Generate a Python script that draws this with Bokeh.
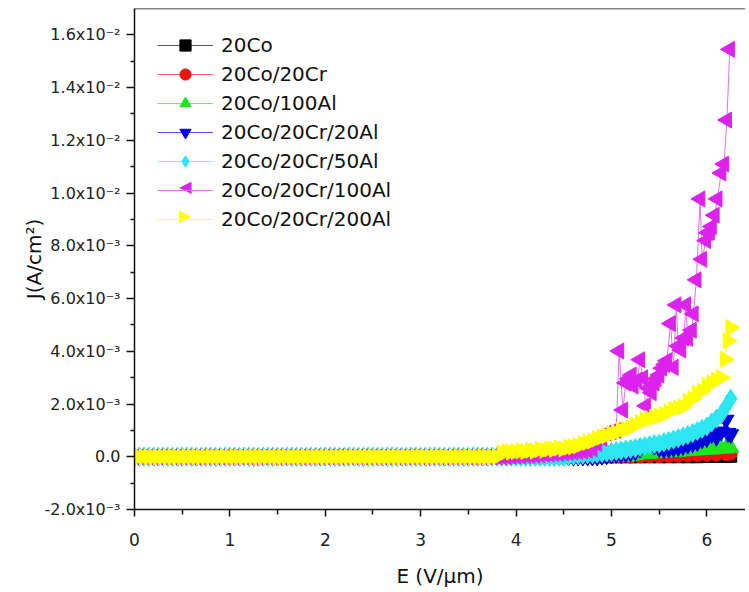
import math
from bokeh.plotting import figure
from bokeh.models import FixedTicker, Span, Legend, LegendItem, Range1d, Label
from bokeh.embed import file_html
from bokeh.resources import INLINE

# ---------------- data ----------------
# common flat part, E in V/um, J in A/cm^2 (all series ~0 below 3.8 V/um)
E_BASE = [0.0, 0.05, 0.1, 0.15, 0.2, 0.25, 0.3, 0.35, 0.4, 0.45, 0.5, 0.55, 0.6, 0.65,
          0.7, 0.75, 0.8, 0.85, 0.9, 0.95, 1.0, 1.05, 1.1, 1.15, 1.2, 1.25, 1.3, 1.35,
          1.4, 1.45, 1.5, 1.55, 1.6, 1.65, 1.7, 1.75, 1.8, 1.85, 1.9, 1.95, 2.0, 2.05,
          2.1, 2.15, 2.2, 2.25, 2.3, 2.35, 2.4, 2.45, 2.5, 2.55, 2.6, 2.65, 2.7, 2.75,
          2.8, 2.85, 2.9, 2.95, 3.0, 3.05, 3.1, 3.15, 3.2, 3.25, 3.3, 3.35, 3.4, 3.45,
          3.5, 3.55, 3.6, 3.65, 3.7, 3.75, 3.8]
J_BASE = [0.0, 0.0, 0.0, 0.0, 0.0, 0.0, 0.0, 0.0, 0.0, 0.0, 0.0, 0.0, 0.0, 0.0,
          0.0, 0.0, 0.0, 0.0, 0.0, 0.0, 0.0, 0.0, 0.0, 0.0, 0.0, 0.0, 0.0, 0.0,
          0.0, 0.0, 0.0, 0.0, 0.0, 0.0, 0.0, 0.0, 0.0, 0.0, 0.0, 0.0, 0.0, 0.0,
          0.0, 0.0, 0.0, 0.0, 0.0, 0.0, 0.0, 0.0, 0.0, 0.0, 0.0, 0.0, 0.0, 0.0,
          0.0, 0.0, 0.0, 0.0, 0.0, 0.0, 0.0, 0.0, 0.0, 0.0, 0.0, 0.0, 0.0, 0.0,
          0.0, 0.0, 0.0, 0.0, 0.0, 0.0, 0.0]

# shared tail grid (3.85 .. 6.25)
E_TAIL = [3.85, 3.9, 3.95, 4.0, 4.05, 4.1, 4.15, 4.2, 4.25, 4.3, 4.35, 4.4, 4.45, 4.5,
          4.55, 4.6, 4.65, 4.7, 4.75, 4.8, 4.85, 4.9, 4.95, 5.0, 5.05, 5.1, 5.15, 5.2,
          5.25, 5.3, 5.35, 5.4, 5.45, 5.5, 5.55, 5.6, 5.65, 5.7, 5.75, 5.8, 5.85, 5.9,
          5.95, 6.0, 6.05, 6.1, 6.15, 6.2, 6.25]

# 20Co
E_CO = [3.9, 4.0, 4.1, 4.2, 4.3, 4.4, 4.5, 4.6, 4.7, 4.8, 4.9, 5.0, 5.1, 5.2, 5.3,
        5.4, 5.5, 5.6, 5.7, 5.8, 5.9, 6.0, 6.1, 6.2, 6.25]
J_CO = [0.0, 0.0, 0.0, 0.0, 0.0, 0.0, 0.0, 0.0, 0.0, 0.0, 0.0, 0.0, 0.0, 0.0, 0.0,
        0.0, 0.0, 0.0, 0.0, 0.0, 0.0, 0.00001, 0.00001, 0.00002, 0.00002]

# 20Co/20Cr
E_COCR = [3.9, 4.0, 4.1, 4.2, 4.3, 4.4, 4.5, 4.6, 4.7, 4.8, 4.9, 5.0, 5.1, 5.2, 5.3,
          5.4, 5.5, 5.6, 5.7, 5.8, 5.9, 6.0, 6.1, 6.2, 6.25]
J_COCR = [0.0, 0.0, 0.0, 0.0, 0.0, 0.0, 0.0, 0.0, 0.0, 0.0, 0.0, 0.0, 0.0, 0.0, 0.00001,
          0.00002, 0.00002, 0.00003, 0.00004, 0.00005, 0.00006, 0.00007, 0.00008, 0.0001, 0.00012]

# 20Co/100Al  (on E_TAIL)
J_CO100AL = [0.0, 0.0, 0.0, 0.0, 0.0, 0.0, 0.0, 0.0, 0.0, 0.0, 0.0, 0.0, 0.0, 0.0,
             0.0, 0.0, 0.0, 0.0, 0.0, 0.0, 0.0, 0.0, 0.0, 0.0, 0.0, 0.0, 0.0, 0.00004,
             0.00006, 0.0001, 0.00012, 0.00012, 0.00014, 0.00015, 0.00016, 0.00018, 0.00019, 0.0002, 0.00021, 0.00023, 0.00024, 0.00025,
             0.00026, 0.00028, 0.00028, 0.0003, 0.00032, 0.00032, 0.00035]

# 20Co/20Cr/20Al
E_20AL = [3.85, 3.9, 3.95, 4.0, 4.05, 4.1, 4.15, 4.2, 4.25, 4.3, 4.35, 4.4, 4.45, 4.5,
          4.55, 4.6, 4.65, 4.7, 4.75, 4.8, 4.85, 4.9, 4.95, 5.0, 5.05, 5.1, 5.15, 5.2,
          5.25, 5.3, 5.35, 5.4, 5.45, 5.5, 5.55, 5.6, 5.65, 5.7, 5.75, 5.8, 5.85, 5.9,
          5.95, 6.0, 6.05, 6.1, 6.15, 6.2, 6.22, 6.25]
J_20AL = [0.0, 0.0, 0.0, 0.0, 0.0, 0.0, 0.0, 0.0, 0.0, 0.0, 0.0, 0.0, 0.0, 0.0,
          0.0, 0.0, 0.0, 0.0, 0.0, 0.0, 0.0, 0.00003, 0.00005, 0.00008, 0.0001, 0.0001, 0.00012, 0.00015,
          0.0002, 0.0003, 0.0004, 0.00045, 0.00042, 0.00032, 0.00028, 0.0003, 0.00033, 0.00036, 0.0004, 0.00045, 0.0005, 0.00055,
          0.00065, 0.0007, 0.00085, 0.00075, 0.00095, 0.0014, 0.0009, 0.00085]

# 20Co/20Cr/50Al  (on E_TAIL)
J_50AL = [0.0, 0.0, 0.0, 0.0, 0.0, 0.0, 0.0, 0.0, 0.0, 0.0, 0.0, 0.0, 0.0, 0.0,
          0.00003, 0.00005, 0.00006, 0.00008, 0.0001, 0.0001, 0.00012, 0.00014, 0.00016, 0.00018, 0.00022, 0.00024, 0.00027, 0.0003,
          0.00033, 0.00037, 0.0004, 0.00044, 0.00048, 0.0005, 0.00055, 0.0006, 0.00065, 0.0007, 0.00077, 0.00083, 0.0009, 0.00098,
          0.00106, 0.00115, 0.0013, 0.00145, 0.0016, 0.0019, 0.0022]

# 20Co/20Cr/100Al
E_100AL = [3.85, 3.9, 3.95, 4.0, 4.05, 4.1, 4.15, 4.2, 4.25, 4.3, 4.35, 4.4, 4.45, 4.5,
           4.55, 4.6, 4.65, 4.7, 4.75, 4.8, 4.85, 4.9, 4.95, 5.0, 5.05, 5.08, 5.12, 5.15,
           5.18, 5.21, 5.23, 5.27, 5.3, 5.33, 5.36, 5.39, 5.42, 5.45, 5.47, 5.5, 5.53, 5.56,
           5.58, 5.62, 5.65, 5.68, 5.7, 5.73, 5.76, 5.78, 5.8, 5.84, 5.86, 5.89, 5.93, 5.95,
           5.99, 6.01, 6.03, 6.05, 6.08, 6.11, 6.15, 6.18, 6.21, 6.24]
J_100AL = [0.0, 0.0, 0.00002, 0.00003, 0.00004, 0.00005, 0.00005, 0.00006, 0.00008, 0.0001, 0.0001, 0.00012, 0.00012, 0.00015,
           0.00016, 0.00018, 0.0002, 0.00022, 0.00025, 0.0003, 0.0005, 0.0007, 0.0009, 0.00095, 0.001, 0.00401, 0.00177, 0.0028,
           0.00296, 0.0031, 0.00268, 0.0029, 0.00368, 0.00299, 0.00193, 0.0026, 0.00243, 0.0028, 0.00296, 0.0031, 0.00336, 0.0035,
           0.00364, 0.00505, 0.00339, 0.00576, 0.0042, 0.00405, 0.0045, 0.00576, 0.00449, 0.0048, 0.00542, 0.00671, 0.00978, 0.00749,
           0.0082, 0.0085, 0.00853, 0.00873, 0.00916, 0.00978, 0.01076, 0.0111, 0.01277, 0.01545]

# 20Co/20Cr/200Al
E_200AL = [3.85, 3.9, 3.95, 4.0, 4.05, 4.1, 4.15, 4.2, 4.25, 4.3, 4.35, 4.4, 4.45, 4.5,
           4.55, 4.6, 4.65, 4.7, 4.75, 4.8, 4.85, 4.9, 4.95, 5.0, 5.05, 5.1, 5.15, 5.2,
           5.25, 5.3, 5.35, 5.4, 5.45, 5.5, 5.55, 5.6, 5.65, 5.7, 5.75, 5.8, 5.85, 5.9,
           5.95, 6.0, 6.05, 6.1, 6.15, 6.19, 6.22, 6.25]
J_200AL = [0.00015, 0.0002, 0.00018, 0.0002, 0.00022, 0.0002, 0.00025, 0.00022, 0.00028, 0.00025, 0.0003, 0.00028, 0.00033, 0.0003,
           0.00036, 0.00038, 0.00042, 0.0005, 0.00055, 0.0006, 0.00068, 0.00075, 0.0008, 0.00088, 0.00092, 0.001, 0.00105, 0.0011,
           0.0012, 0.0013, 0.0014, 0.00145, 0.0015, 0.00155, 0.0016, 0.0017, 0.0018, 0.00185, 0.0019, 0.0021, 0.0022, 0.0024,
           0.0025, 0.0027, 0.0028, 0.0029, 0.003, 0.0037, 0.0044, 0.0049]

NAMES = ["20Co", "20Co/20Cr", "20Co/100Al", "20Co/20Cr/20Al",
         "20Co/20Cr/50Al", "20Co/20Cr/100Al", "20Co/20Cr/200Al"]
X_SERIES = [E_BASE + E_CO, E_BASE + E_COCR, E_BASE + E_TAIL, E_BASE + E_20AL,
            E_BASE + E_TAIL, E_BASE + E_100AL, E_BASE + E_200AL]
Y_SERIES = [J_BASE + J_CO, J_BASE + J_COCR, J_BASE + J_CO100AL, J_BASE + J_20AL,
            J_BASE + J_50AL, J_BASE + J_100AL, J_BASE + J_200AL]
COLORS = ["#000000", "#EE1111", "#1EE61E", "#0000DD", "#2EE6F2", "#DD22EE", "#FFFF00"]
LINE_COLORS = ["#555555", "#F06060", "#60F060", "#5050F0", "#80F0F8", "#E070F0", "#FFFF60"]
MARKERS = ["square", "circle", "triangle", "inverted_triangle", "diamond", "triangle", "triangle"]
ANGLES = [0.0, 0.0, 0.0, 0.0, 0.0, math.pi / 2, -math.pi / 2]
SIZES = [12, 13, 16, 16, 19, 16, 16]
# legend symbols drawn as text for the sideways triangles (legend ignores marker angle)
LEGEND_SYMBOLS = [None, None, None, None, None, "\u25c0", "\u25b6"]

X_TICKS = [0, 1, 2, 3, 4, 5, 6]
X_MINOR = [0.5, 1.5, 2.5, 3.5, 4.5, 5.5, 6.5]
Y_TICKS = [-0.002, 0.0, 0.002, 0.004, 0.006, 0.008, 0.010, 0.012, 0.014, 0.016]
Y_TICK_LABELS = ["-2.0x10\u207b\u00b3", "0.0", "2.0x10\u207b\u00b3", "4.0x10\u207b\u00b3",
                 "6.0x10\u207b\u00b3", "8.0x10\u207b\u00b3", "1.0x10\u207b\u00b2",
                 "1.2x10\u207b\u00b2", "1.4x10\u207b\u00b2", "1.6x10\u207b\u00b2"]
Y_MINOR = [-0.001, 0.001, 0.003, 0.005, 0.007, 0.009, 0.011, 0.013, 0.015]

FONT = "DejaVu Sans"
W, H = 745, 590
B_LEFT, B_TOP, B_BOTTOM = 134, 8, 77
FRAME_H = H - B_TOP - B_BOTTOM
LEG_MARGIN, LEG_GLYPH_W, LEG_GLYPH_H, LEG_SPACING = 23, 56, 28, 1

p = figure(width=W, height=H, output_backend="svg", toolbar_location=None,
           x_range=Range1d(0, 6.405), y_range=Range1d(-0.002, 0.017),
           min_border_left=B_LEFT, min_border_right=0, min_border_top=B_TOP,
           min_border_bottom=B_BOTTOM)
p.outline_line_color = None
p.xgrid.visible = False
p.ygrid.visible = False
p.background_fill_color = "white"
p.border_fill_color = "white"

items = []
for name, xs, ys, c, lc, m, a, s, sym in zip(NAMES, X_SERIES, Y_SERIES, COLORS, LINE_COLORS,
                                             MARKERS, ANGLES, SIZES, LEGEND_SYMBOLS):
    lr = p.line(xs, ys, line_color=lc, line_width=1)
    sr = p.scatter(xs, ys, marker=m, angle=a, size=s, fill_color=c, line_color=c)
    items.append(LegendItem(label=name, renderers=[lr] if sym else [lr, sr]))

legend = Legend(items=items, location="top_left", margin=LEG_MARGIN, padding=0,
                spacing=LEG_SPACING, glyph_width=LEG_GLYPH_W, glyph_height=LEG_GLYPH_H,
                label_height=LEG_GLYPH_H, label_standoff=8,
                label_text_font=FONT, label_text_font_size="20px",
                label_text_color="#111111",
                background_fill_alpha=0, border_line_color=None)
p.add_layout(legend)

# sideways-triangle symbols for the legend rows that need them
for i, (sym, c) in enumerate(zip(LEGEND_SYMBOLS, COLORS)):
    if sym is None:
        continue
    row_center = LEG_MARGIN + i * (LEG_GLYPH_H + LEG_SPACING) + LEG_GLYPH_H / 2
    p.add_layout(Label(x=LEG_MARGIN + LEG_GLYPH_W / 2, y=FRAME_H - row_center,
                       x_units="screen", y_units="screen", text=sym,
                       text_color=c, text_font=FONT, text_font_size="16px",
                       text_align="center", text_baseline="middle"))

p.add_layout(Span(location=0.017, dimension="width", line_color="#111111", line_width=1.5))

xa = p.xaxis[0]
xa.ticker = FixedTicker(ticks=X_TICKS, minor_ticks=X_MINOR)
xa.axis_label = "E (V/\u03bcm)"
ya = p.yaxis[0]
ya.ticker = FixedTicker(ticks=Y_TICKS, minor_ticks=Y_MINOR)
ya.major_label_overrides = {t: l for t, l in zip(Y_TICKS, Y_TICK_LABELS)}
ya.axis_label = "J(A/cm\u00b2)"

for ax in (xa, ya):
    ax.axis_line_color = "#111111"
    ax.axis_line_width = 1.5
    ax.major_tick_line_color = "#111111"
    ax.minor_tick_line_color = "#111111"
    ax.major_tick_line_width = 1.5
    ax.minor_tick_line_width = 1.5
    ax.major_tick_in = 0
    ax.minor_tick_in = 0
    ax.major_label_text_font = FONT
    ax.major_label_text_color = "#222222"
    ax.axis_label_text_font = FONT
    ax.axis_label_text_font_size = "20px"
    ax.axis_label_text_font_style = "normal"
    ax.axis_label_text_color = "#111111"

xa.major_label_text_font_size = "17px"
ya.major_label_text_font_size = "16px"
xa.major_tick_out = 7
xa.minor_tick_out = 5
xa.major_label_standoff = 16
xa.axis_label_standoff = 15
ya.major_tick_out = 8
ya.minor_tick_out = 4
ya.major_label_standoff = 6
ya.axis_label_standoff = -4

open("out.html", "w").write(file_html(p, INLINE))
